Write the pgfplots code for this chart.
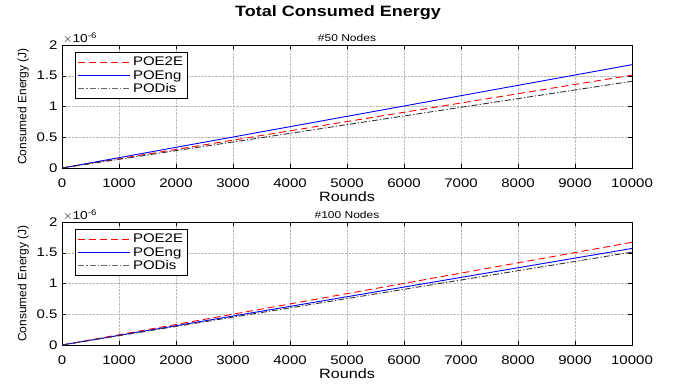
\documentclass[border=0pt]{standalone}
\usepackage{pgfplots}
\pgfplotsset{compat=1.18}
\usepackage{fontspec}
\setmainfont{Liberation Sans}[FakeStretch=1.2]
\newfontfamily\ylfont{Liberation Sans}
\begin{document}
\begin{tikzpicture}
\path[use as bounding box] (0pt,0pt) rectangle (679pt,-385pt);
\pgfplotsset{
 myax/.style={scale only axis, width=570pt, height=123pt,
  xmin=0,xmax=10000, ymin=0,ymax=2,
  xtick={0,1000,...,10000}, ytick={0,0.5,1,1.5,2},
  grid=major, grid style={densely dotted, gray!55},
  tick align=inside, major tick length=4pt, tick style={black},
  axis line style={black},
  clip mode=individual,
  ticklabel style={font=\fontsize{12.5}{13}\selectfont},
  /pgf/number format/assume math mode=true,
  scaled x ticks=false, scaled y ticks=false,
  xticklabel style={/pgf/number format/1000 sep={}, yshift=-7pt},
  yticklabel style={xshift=-1pt},
  xlabel={Rounds}, ylabel={Consumed Energy (J)},
  xlabel style={font=\fontsize{13.5}{14}\selectfont, yshift=3pt},
  ylabel style={font=\ylfont\fontsize{12}{13}\selectfont, yshift=1pt},
  title style={font=\fontsize{10}{11}\selectfont, at={(0.5,1)}, anchor=south, yshift=-6pt},
  legend style={at={(0.023,0.94)}, anchor=north west, draw=black, fill=white,
   font=\fontsize{12.5}{13}\selectfont, row sep=-1pt, inner sep=2.5pt,
   nodes={text=black}},
  legend cell align=left,
  legend image code/.code={\draw[##1] (0pt,0pt) -- (52pt,0pt);},
 },
 e2e/.style={draw=red, dash pattern=on 7pt off 4pt, line width=0.9pt},
 eng/.style={draw=blue, line width=0.9pt},
 dis/.style={draw=black!80, dash pattern=on 6pt off 2pt on 1.2pt off 2pt, line width=0.9pt},
}
\node[font=\bfseries\fontsize{15}{16}\selectfont] at (338pt,-13pt) {Total Consumed Energy};
\begin{axis}[myax, at={(62pt,-45pt)}, anchor=north west, title={\#50 Nodes}]
\addlegendimage{draw=red, line width=1.2pt, dash pattern=on 7pt off 4pt}
\addlegendentry{POE2E}
\addlegendimage{draw=blue, line width=1.2pt}
\addlegendentry{POEng}
\addlegendimage{draw=black!60, line width=1.2pt, dash pattern=on 6pt off 2pt on 1.2pt off 2pt}
\addlegendentry{PODis}
\addplot[e2e, forget plot] coordinates {(0,0) (1000,0.151) (2000,0.302) (3000,0.453) (4000,0.604) (5000,0.755) (6000,0.906) (7000,1.057) (8000,1.208) (9000,1.359) (10000,1.51)};
\addplot[eng, forget plot] coordinates {(0,0) (1000,0.168) (2000,0.336) (3000,0.504) (4000,0.672) (5000,0.84) (6000,1.008) (7000,1.176) (8000,1.344) (9000,1.512) (10000,1.68)};
\addplot[dis, forget plot] coordinates {(0,0) (1000,0.141) (2000,0.282) (3000,0.423) (4000,0.564) (5000,0.705) (6000,0.846) (7000,0.987) (8000,1.128) (9000,1.269) (10000,1.41)};
\node[anchor=south west, font=\fontsize{11.5}{12}\selectfont, inner sep=1pt] at (rel axis cs:0,1) {$\times$10\textsuperscript{-6}};
\end{axis}
\begin{axis}[myax, at={(62pt,-222pt)}, anchor=north west, title={\#100 Nodes}]
\addlegendimage{draw=red, line width=1.2pt, dash pattern=on 7pt off 4pt}
\addlegendentry{POE2E}
\addlegendimage{draw=blue, line width=1.2pt}
\addlegendentry{POEng}
\addlegendimage{draw=black!60, line width=1.2pt, dash pattern=on 6pt off 2pt on 1.2pt off 2pt}
\addlegendentry{PODis}
\addplot[e2e, forget plot] coordinates {(0,0) (1000,0.167) (2000,0.334) (3000,0.501) (4000,0.668) (5000,0.835) (6000,1.002) (7000,1.169) (8000,1.336) (9000,1.503) (10000,1.67)};
\addplot[eng, forget plot] coordinates {(0,0) (1000,0.157) (2000,0.314) (3000,0.471) (4000,0.628) (5000,0.785) (6000,0.942) (7000,1.099) (8000,1.256) (9000,1.413) (10000,1.57)};
\addplot[dis, forget plot] coordinates {(0,0) (1000,0.151) (2000,0.302) (3000,0.453) (4000,0.604) (5000,0.755) (6000,0.906) (7000,1.057) (8000,1.208) (9000,1.359) (10000,1.51)};
\node[anchor=south west, font=\fontsize{11.5}{12}\selectfont, inner sep=1pt] at (rel axis cs:0,1) {$\times$10\textsuperscript{-6}};
\end{axis}
\end{tikzpicture}
\end{document}
